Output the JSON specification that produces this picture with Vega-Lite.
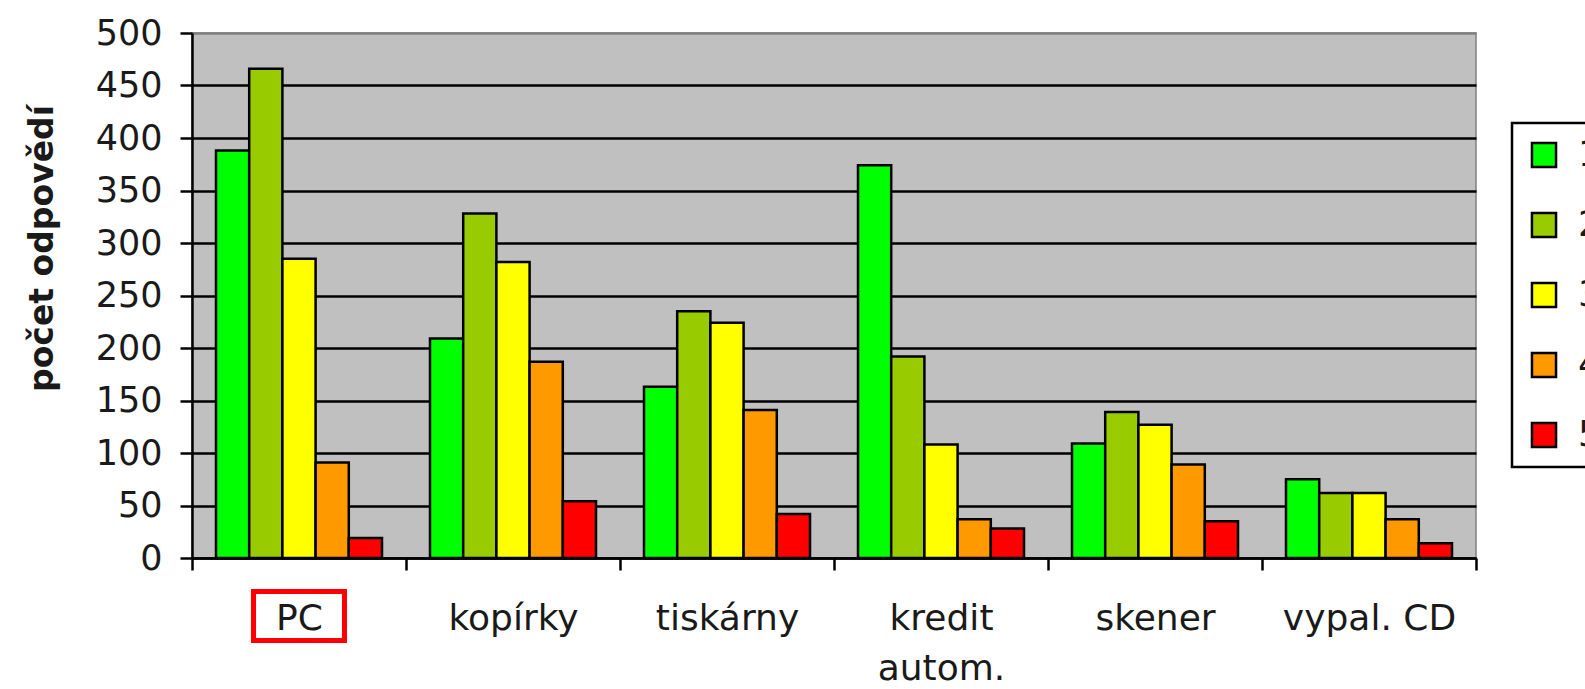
{
  "$schema": "https://vega.github.io/schema/vega-lite/v6.json",
  "autosize": {"type": "none"},
  "width": 1284,
  "height": 525,
  "padding": {"left": 192, "top": 33, "right": 109, "bottom": 131},
  "background": "white",
  "view": {"fill": "#C0C0C0", "stroke": "#808080", "strokeWidth": 1.5},
  "config": {"font": "DejaVu Sans", "legend": {"strokeWidth": 2.5}},
  "datasets": {
    "bars": [
      {"cat": "PC", "rating": "1", "value": 388},
      {"cat": "PC", "rating": "2", "value": 466},
      {"cat": "PC", "rating": "3", "value": 285},
      {"cat": "PC", "rating": "4", "value": 91},
      {"cat": "PC", "rating": "5", "value": 19},
      {"cat": "kopírky", "rating": "1", "value": 209},
      {"cat": "kopírky", "rating": "2", "value": 328},
      {"cat": "kopírky", "rating": "3", "value": 282},
      {"cat": "kopírky", "rating": "4", "value": 187},
      {"cat": "kopírky", "rating": "5", "value": 54},
      {"cat": "tiskárny", "rating": "1", "value": 163},
      {"cat": "tiskárny", "rating": "2", "value": 235},
      {"cat": "tiskárny", "rating": "3", "value": 224},
      {"cat": "tiskárny", "rating": "4", "value": 141},
      {"cat": "tiskárny", "rating": "5", "value": 42},
      {"cat": "kredit autom.", "rating": "1", "value": 374},
      {"cat": "kredit autom.", "rating": "2", "value": 192},
      {"cat": "kredit autom.", "rating": "3", "value": 108},
      {"cat": "kredit autom.", "rating": "4", "value": 37},
      {"cat": "kredit autom.", "rating": "5", "value": 28},
      {"cat": "skener", "rating": "1", "value": 109},
      {"cat": "skener", "rating": "2", "value": 139},
      {"cat": "skener", "rating": "3", "value": 127},
      {"cat": "skener", "rating": "4", "value": 89},
      {"cat": "skener", "rating": "5", "value": 35},
      {"cat": "vypal. CD", "rating": "1", "value": 75},
      {"cat": "vypal. CD", "rating": "2", "value": 62},
      {"cat": "vypal. CD", "rating": "3", "value": 62},
      {"cat": "vypal. CD", "rating": "4", "value": 37},
      {"cat": "vypal. CD", "rating": "5", "value": 14}
    ],
    "highlight": [
      {"cat": "PC", "lo": -78.6, "hi": -32}
    ]
  },
  "layer": [
    {
      "data": {"name": "bars"},
      "mark": {"type": "bar", "stroke": "black", "strokeWidth": 2.5},
      "encoding": {
        "x": {
          "field": "cat", "type": "nominal", "sort": null,
          "scale": {"paddingInner": 0, "paddingOuter": 0},
          "axis": {
            "title": null, "labelAngle": 0, "tickBand": "extent",
            "labelFontSize": 36, "labelFont": "DejaVu Sans", "labelColor": "#1a1a1a",
            "labelPadding": 31, "tickSize": 12, "tickColor": "black", "tickWidth": 2.5,
            "domainColor": "black", "domainWidth": 2.5,
            "labelLineHeight": 50, "labelBaseline": "top",
            "labelExpr": "datum.label == 'kredit autom.' ? ['kredit', 'autom.'] : datum.label"
          }
        },
        "xOffset": {"field": "rating", "type": "nominal", "scale": {"paddingInner": 0, "paddingOuter": 0.723}},
        "y": {
          "field": "value", "type": "quantitative",
          "scale": {"domain": [0, 500], "nice": false},
          "axis": {
            "title": "počet odpovědí", "titleFont": "DejaVu Sans", "titleFontSize": 33,
            "titleFontWeight": "bold", "titleColor": "#1a1a1a",
            "titleAngle": 270, "titleX": -150, "titleY": 215,
            "titleAlign": "center", "titleBaseline": "middle",
            "values": [0, 50, 100, 150, 200, 250, 300, 350, 400, 450, 500],
            "labelFontSize": 35, "labelFont": "DejaVu Sans", "labelColor": "#1a1a1a",
            "labelPadding": 18, "tickSize": 12, "tickColor": "black", "tickWidth": 2.5,
            "domainColor": "black", "domainWidth": 2.5,
            "grid": true, "gridWidth": 2.5,
            "gridColor": {"condition": {"test": "datum.value == 500", "value": "#808080"}, "value": "black"}
          }
        },
        "color": {
          "field": "rating", "type": "nominal",
          "scale": {"domain": ["1", "2", "3", "4", "5"], "range": ["#00FF00", "#99CC00", "#FFFF00", "#FF9900", "#FF0000"]},
          "legend": {
            "title": null, "orient": "none", "legendX": 1320, "legendY": 90,
            "fillColor": "white", "strokeColor": "black",
            "padding": 14, "symbolType": "square", "symbolSize": 580,
            "symbolStrokeColor": "black", "symbolStrokeWidth": 2.5, "symbolOpacity": 1,
            "labelFontSize": 36, "labelFont": "DejaVu Sans", "labelColor": "#1a1a1a",
            "labelOffset": 16, "rowPadding": 34
          }
        }
      }
    },
    {
      "data": {"name": "highlight"},
      "mark": {"type": "bar", "fill": null, "fillOpacity": 0, "stroke": "#FF0000", "strokeWidth": 5, "width": {"band": 0.425}, "clip": false},
      "encoding": {
        "x": {"field": "cat", "type": "nominal", "sort": null},
        "y": {"field": "lo", "type": "quantitative"},
        "y2": {"field": "hi"}
      }
    }
  ]
}
